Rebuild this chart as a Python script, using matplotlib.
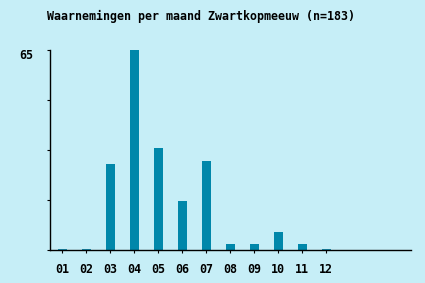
import matplotlib
matplotlib.use("Agg")
import matplotlib.pyplot as plt
from matplotlib.ticker import FixedLocator

months = ["01", "02", "03", "04", "05", "06", "07", "08", "09", "10", "11", "12"]
counts = [0, 0, 28, 65, 33, 16, 29, 2, 2, 6, 2, 0]
title = "Waarnemingen per maand Zwartkopmeeuw (n=183)"
ymax = 65

bg = "#c6eef7"
bar_color = "#0087aa"
W, H = 425, 283

fig = plt.figure(figsize=(W / 100, H / 100), dpi=100, facecolor=bg)
ax = fig.add_axes([50 / W, (H - 250) / H, (411 - 50) / W, 200 / H])
ax.set_facecolor(bg)

x = list(range(1, len(months) + 1))
ax.bar(x, counts, width=0.375, color=bar_color, linewidth=0)
# zero-count months drawn as a thin stub on the baseline
zx = [xi for xi, c in zip(x, counts) if c == 0]
ax.bar(zx, [0.35] * len(zx), width=0.375, color="#1a90b2", linewidth=0)

ax.set_xlim(0.5, 15.54)
ax.set_ylim(0, ymax)

for s in ["top", "right"]:
    ax.spines[s].set_visible(False)
for s in ["left", "bottom"]:
    ax.spines[s].set_color("black")
    ax.spines[s].set_linewidth(1.0)

font = dict(family="DejaVu Sans Mono", weight="bold", size=8.4)
ax.set_xticks(x)
ax.set_xticklabels(months, **font)
ax.tick_params(axis="x", direction="out", length=2.5, width=0.8, pad=7, colors="black")
ax.yaxis.set_major_locator(FixedLocator([ymax * i / 4 for i in range(5)]))
ax.set_yticklabels([])
ax.tick_params(axis="y", direction="out", length=2, width=0.8)

ax.text(-17 / 361, 1 - 6 / 200, str(ymax), transform=ax.transAxes,
        ha="right", va="center", **font)

fig.text(47 / W, 1 - 16 / H, title, ha="left", va="center", **font)

fig.savefig("out.png", dpi=100, facecolor=bg)
